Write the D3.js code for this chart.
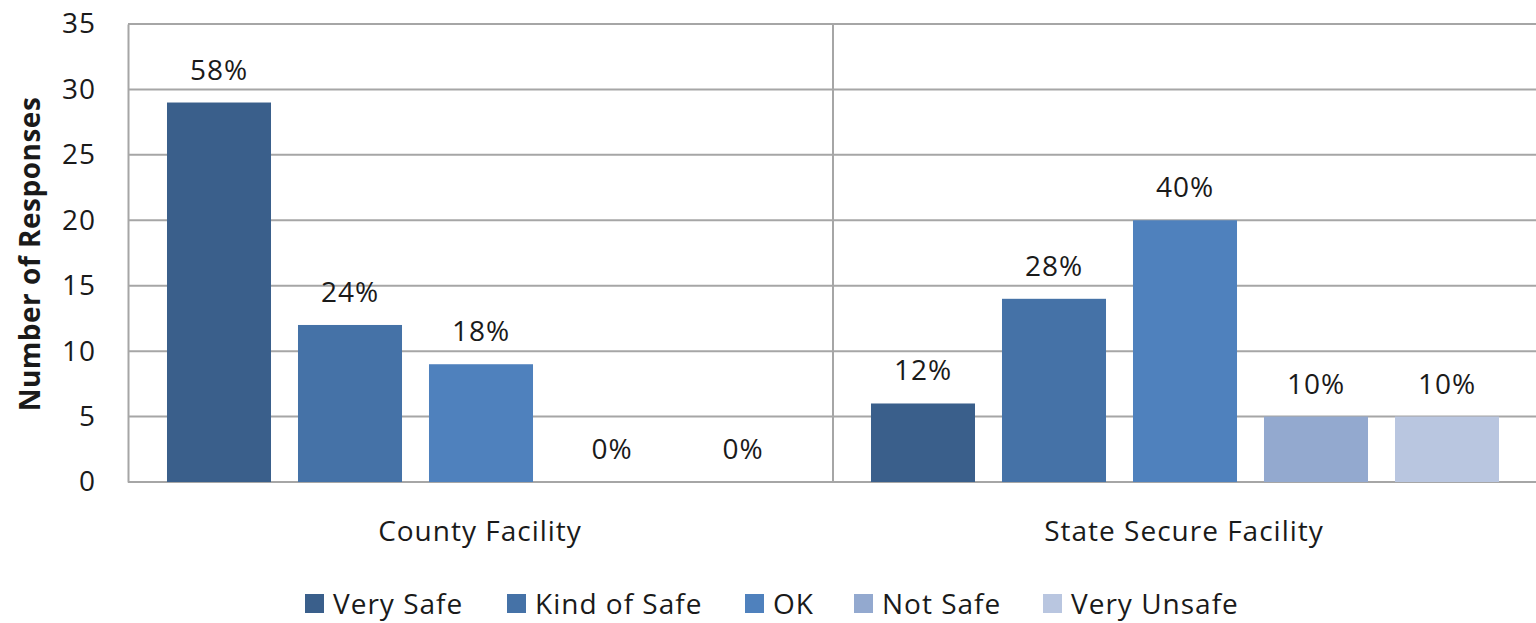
<!DOCTYPE html>
<html>
<head>
<meta charset="utf-8">
<script src="https://cdn.jsdelivr.net/npm/d3@7"></script>
<style>
  body { margin: 0; background: #fff; }
  text { font-family: "Open Sans", sans-serif; fill: #1a1a1a; letter-spacing: 1px; }
</style>
</head>
<body>
<div class="chart"></div>
<script>
// chart data
let groups = ["County Facility", "State Secure Facility"];
let series = ["Very Safe", "Kind of Safe", "OK", "Not Safe", "Very Unsafe"];
let countyValues = [29, 12, 9, 0, 0];
let stateValues = [6, 14, 20, 5, 5];
let countyLabels = ["58%", "24%", "18%", "0%", "0%"];
let stateLabels = ["12%", "28%", "40%", "10%", "10%"];
let yTicks = [0, 5, 10, 15, 20, 25, 30, 35];
let colors = ["#3a5f8b", "#4572a7", "#4f81bd", "#93a9cf", "#b9c6e0"];

let svgWidth = 1536;
let svgHeight = 623;
let margin = { top: 24, right: 0, bottom: 141, left: 128 };
let width = svgWidth - margin.left - margin.right;
let height = svgHeight - margin.top - margin.bottom;

let svg = d3.select(".chart")
  .append("svg")
  .attr("width", svgWidth)
  .attr("height", svgHeight);

let chartGroup = svg.append("g")
  .attr("transform", `translate(${margin.left}, ${margin.top})`);

// build rows
let rows = groups.map((g, i) => ({
  group: g,
  values: series.map((s, j) => ({
    series: s,
    value: i === 0 ? countyValues[j] : stateValues[j],
    label: i === 0 ? countyLabels[j] : stateLabels[j],
    color: colors[j]
  }))
}));

let x0 = d3.scaleBand().domain(groups).range([0, width]).padding(0);
let x1 = d3.scaleBand().domain(series).range([0, x0.bandwidth()])
  .paddingInner(0.206).paddingOuter(0.29);
let y = d3.scaleLinear().domain([0, 35]).range([height, 0]);

// gridlines
chartGroup.append("g").selectAll("line")
  .data(yTicks)
  .enter().append("line")
  .attr("x1", 0).attr("x2", width)
  .attr("y1", d => y(d)).attr("y2", d => y(d))
  .attr("stroke", "#a6a6a6").attr("stroke-width", 2);

// y axis ticks
let leftAxis = d3.axisLeft(y).tickValues(yTicks).tickSize(0).tickPadding(32);
let yAxisG = chartGroup.append("g").call(leftAxis);
yAxisG.select(".domain").attr("stroke", "#a6a6a6").attr("stroke-width", 2);
yAxisG.selectAll("text")
  .style("font-size", "28px")
  .style("font-family", "Open Sans, sans-serif")
  .attr("fill", "#1a1a1a");

// group separators
chartGroup.append("g").selectAll("line")
  .data(groups.slice(1))
  .enter().append("line")
  .attr("x1", d => x0(d) + 1).attr("x2", d => x0(d) + 1)
  .attr("y1", 0).attr("y2", height)
  .attr("stroke", "#a6a6a6").attr("stroke-width", 2);

// bars
let groupG = chartGroup.selectAll(".grp")
  .data(rows)
  .enter().append("g")
  .attr("class", "grp")
  .attr("transform", d => `translate(${x0(d.group)}, 0)`);

groupG.selectAll("rect")
  .data(d => d.values)
  .enter().append("rect")
  .attr("x", d => x1(d.series) + 1)
  .attr("y", d => y(d.value))
  .attr("width", x1.bandwidth())
  .attr("height", d => height - y(d.value))
  .attr("fill", d => d.color);

groupG.selectAll(".lbl")
  .data(d => d.values)
  .enter().append("text")
  .attr("class", "lbl")
  .attr("x", d => x1(d.series) + x1.bandwidth() / 2 + 1)
  .attr("y", d => y(d.value) - 23)
  .attr("text-anchor", "middle")
  .style("font-size", "28px")
  .text(d => d.label);

// category labels
chartGroup.selectAll(".cat")
  .data(groups)
  .enter().append("text")
  .attr("class", "cat")
  .attr("x", d => x0(d) + x0.bandwidth() / 2)
  .attr("y", height + 59)
  .attr("text-anchor", "middle")
  .style("font-size", "28px")
  .text(d => d);

// axis title
svg.append("text")
  .attr("transform", `translate(40, ${margin.top + height / 2 + 1}) rotate(-90)`)
  .attr("text-anchor", "middle")
  .style("font-size", "28px")
  .style("font-weight", "bold")
  .style("letter-spacing", "0.5px")
  .text("Number of Responses");

// legend
let legendX = [305, 507, 745, 854, 1043];
let legend = svg.append("g").selectAll("g")
  .data(series)
  .enter().append("g")
  .attr("transform", (d, i) => `translate(${legendX[i]}, 594)`);

legend.append("rect")
  .attr("width", 19).attr("height", 19)
  .attr("y", 0)
  .attr("fill", (d, i) => colors[i]);

legend.append("text")
  .attr("x", 28)
  .attr("y", 20)
  .style("font-size", "28px")
  .text(d => d);
</script>
</body>
</html>
